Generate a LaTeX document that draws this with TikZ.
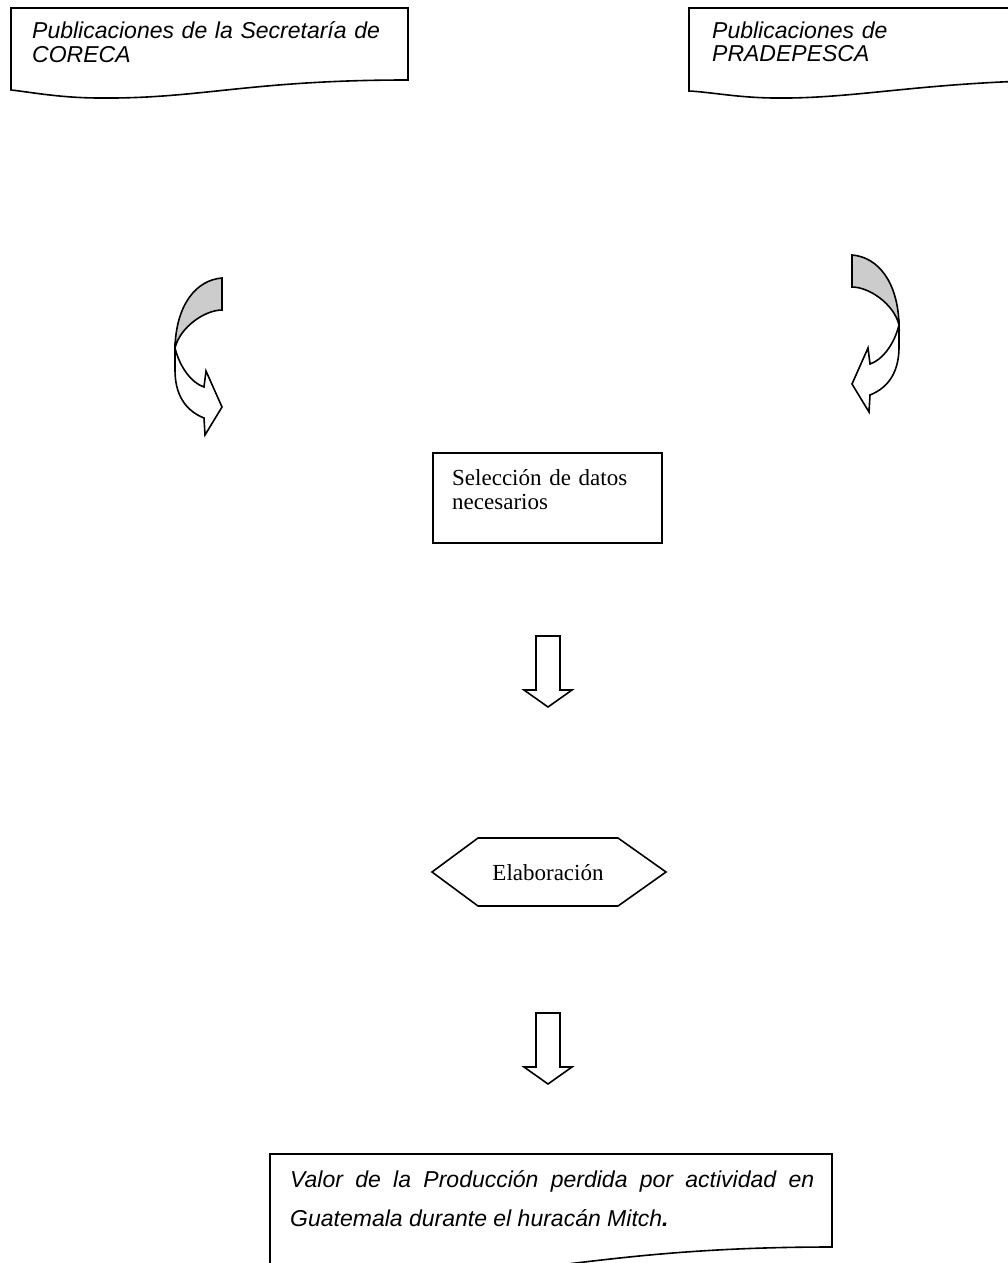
\documentclass[tikz,border=0pt]{standalone}
\usepackage{fontspec}
\setmainfont{Liberation Serif}
\newfontfamily\arialfont{Liberation Sans}
\usepackage{xcolor}
\definecolor{arrowGrey}{HTML}{CCCCCC}
\usetikzlibrary{positioning}

\begin{document}
\begin{tikzpicture}[x=1pt, y=-1pt,
    shapeline/.style={draw=black, line width=1.6pt, line join=miter},
    sanstxt/.style={font=\arialfont\itshape\fontsize{23}{24}\selectfont,
                inner sep=0pt, anchor=base west, align=left},
    seriftxt/.style={font=\fontsize{23}{24}\selectfont,
                inner sep=0pt, anchor=base west, align=left},
    curvarrow/.pic={
        \path[shapeline, fill=arrowGrey] (0,0) .. controls (-26,2) and (-46,27) .. (-47,70)
            .. controls (-42,49) and (-17,32) .. (0,32) -- cycle;
        \path[shapeline, fill=white] (-47,70) .. controls (-42,90) and (-30,105) .. (-18,109)
            -- (-16,93) -- (0,129) -- (-17,157) -- (-18,140)
            .. controls (-38,132) and (-47,115) .. (-47,92) -- cycle;
    },
    downarrow/.pic={
        \path[shapeline] (-12,0) -- (12,0) -- (12,54) -- (24,54) -- (0,71)
            -- (-24,54) -- (-12,54) -- cycle;
    }
]
\useasboundingbox (0,0) rectangle (1007,1263);
% Sources
\path[shapeline] (11,8) -- (408,8) -- (408,80) .. controls (250,80) and (200,99) .. (100,98)
    .. controls (60,98) and (30,92) .. (11,90) -- cycle;
\node[sanstxt, text width=370pt] (coreca) at (32,39) {Publicaciones de la Secretaría de\\CORECA};
\path[shapeline] (689,8) -- (1086,8) -- (1086,80) .. controls (930,80) and (860,99) .. (776,98)
    .. controls (740,98) and (710,92) .. (689,91) -- cycle;
\node[sanstxt, text width=370pt] (pradepesca) at (712,38) {Publicaciones de\\PRADEPESCA};
% Curved arrows
\pic at (222,278) {curvarrow};
\pic[xscale=-1] at (852,255) {curvarrow};
% Selection
\node[shapeline, minimum width=229pt, minimum height=90pt, inner sep=0pt,
      anchor=north west] (selbox) at (432,452) {};
\node[seriftxt, text width=200pt] (seltxt) at (452,485) {Selección de datos\\necesarios};
\pic at (548,636) {downarrow};
% Elaboration
\path[shapeline] (432,872) -- (478,838) -- (618,838) -- (666,872) -- (618,906)
    -- (478,906) -- cycle;
\node[seriftxt, anchor=base] (elab) at (548,880) {Elaboración};
\pic at (548,1013) {downarrow};
% Result
\path[shapeline] (270,1154) -- (832,1154) -- (832,1247) .. controls (610,1247) and (540,1277) .. (400,1276)
    .. controls (350,1276) and (300,1268) .. (270,1266) -- cycle;
\node[sanstxt, text width=524pt, align=justify,
      font=\arialfont\itshape\fontsize{23}{39}\selectfont] (valor) at (290,1187)
    {Valor de la Producción perdida por actividad en\linebreak Guatemala durante el huracán Mitch\textbf{.}};
\end{tikzpicture}
\end{document}
